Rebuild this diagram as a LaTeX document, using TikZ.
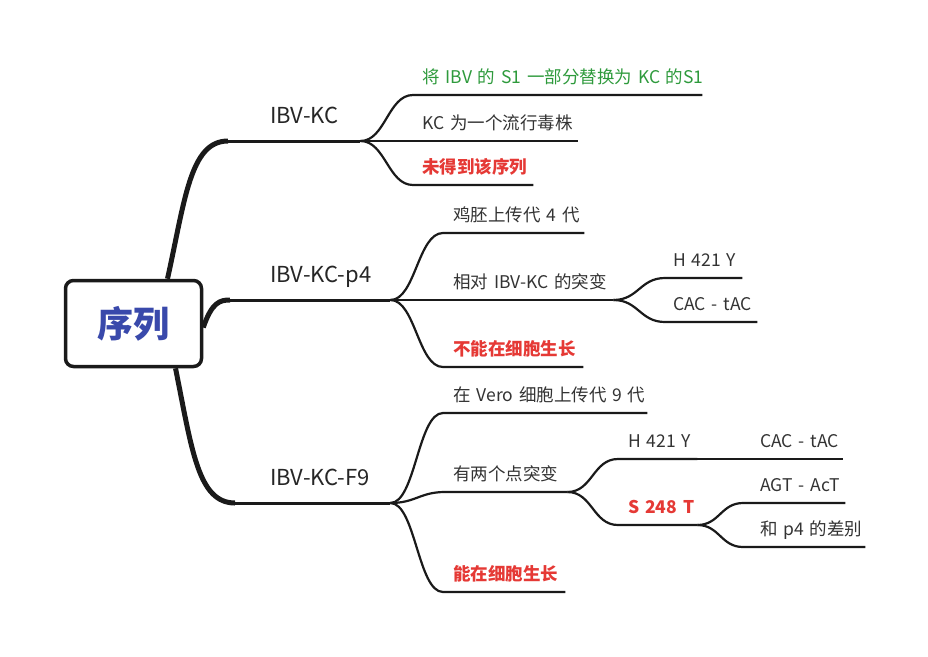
\documentclass[tikz,border=0pt]{standalone}
\usepackage{fontspec}
\setmainfont{Noto Sans CJK SC}[WordSpace=0.8]
\usetikzlibrary{positioning}

\definecolor{rootblue}{HTML}{3949AB}
\definecolor{leafgreen}{HTML}{2E9A3C}
\definecolor{alertred}{HTML}{E53935}
\definecolor{inkline}{HTML}{1A1A1A}
\definecolor{inktext}{HTML}{333333}

\tikzset{
	root/.style={draw=inkline, line width=3.5pt, rounded corners=8pt, fill=white, minimum width=136pt, minimum height=86pt, text=rootblue, font=\fontsize{36}{40}\selectfont\bfseries},
	topic/.style={anchor=south west, inner xsep=0pt, inner ysep=0pt, align=left, text width=#1pt, text=inktext, text depth=11pt, font=\fontsize{17.5}{20}\selectfont},
	lvlone/.style={topic=#1, text=black!85, text depth=17.5pt, font=\fontsize{22}{26}\selectfont},
	alert/.style={text=alertred, font=\fontsize{17.5}{20}\selectfont\bfseries},
	trunk/.style={draw=inkline, line width=5pt},
	stem/.style={draw=inkline, line width=3pt},
	twig/.style={draw=inkline, line width=2.2pt}
}

\begin{document}
\begin{tikzpicture}[x=1pt, y=-1pt]
		\useasboundingbox (0,0) rectangle (928,656);

		\node (root)[root] at (133.5,323.5) {序列};

		\node (kc)[lvlone=90] at (270,141) {IBV-KC};
		\node (p4)[lvlone=120] at (270,300) {IBV-KC-p4};
		\node (f9)[lvlone=120] at (270,503) {IBV-KC-F9};

		\node (kc1)[topic=280, text=leafgreen] at (422,95) {\mbox{将 IBV 的 S1 一部分替换为 KC 的S1}};
		\node (kc2)[topic=156] at (422,141) {KC 为一个流行毒株};
		\node (kc3)[topic=111, alert] at (422,185) {未得到该序列};

		\node (p41)[topic=131] at (453,233) {鸡胚上传代 4 代};
		\node (p42)[topic=160] at (453,300) {相对 IBV-KC 的突变};
		\node (p43)[topic=130, alert] at (453,367) {不能在细胞生长};

		\node (h1)[topic=69] at (673,278) {H 421 Y};
		\node (c1)[topic=84] at (673,322) {CAC - tAC};

		\node (f91)[topic=194] at (453,413) {在 Vero 细胞上传代 9 代};
		\node (f92)[topic=114] at (453,492) {有两个点突变};
		\node (f93)[topic=112, alert] at (453,592) {能在细胞生长};

		\node (h2)[topic=69] at (628,459) {H 421 Y};
		\node (s2)[topic=69, alert] at (628,525) {S 248 T};

		\node (c2)[topic=83] at (760,459) {CAC - tAC};
		\node (a2)[topic=85] at (760,503) {AGT - AcT};
		\node (d2)[topic=105] at (760,547) {和 p4 的差别};

		% main branches
		\draw [trunk]([xshift=34pt]root.north) .. controls (185,200) and (190,141) .. ([xshift=-42pt]kc.south west);
		\draw [trunk]([yshift=-4pt]root.east) .. controls (212,302) and (220,300) .. ([xshift=-40pt]p4.south west);
		\draw [trunk]([xshift=42pt]root.south) .. controls (192,450) and (198,503) .. ([xshift=-35pt]f9.south west);
		\draw [stem]([xshift=-42pt]kc.south west) -- (kc.south east);
		\draw [stem]([xshift=-40pt]p4.south west) -- (p4.south east);
		\draw [stem]([xshift=-35pt]f9.south west) -- (f9.south east);

		\draw [twig](kc.south east) .. controls +(25,0) and +(-25,0) .. ([xshift=-9pt]kc1.south west) -- (kc1.south east);
		\draw [twig](kc.south east) -- (kc2.south east);
		\draw [twig](kc.south east) .. controls +(25,0) and +(-25,0) .. ([xshift=-9pt]kc3.south west) -- (kc3.south east);

		\draw [twig](p4.south east) .. controls +(25,0) and +(-25,0) .. ([xshift=-10pt]p41.south west) -- (p41.south east);
		\draw [twig](p4.south east) -- (p42.south east);
		\draw [twig](p4.south east) .. controls +(25,0) and +(-25,0) .. ([xshift=-10pt]p43.south west) -- (p43.south east);

		\draw [twig](p42.south east) .. controls +(25,0) and +(-25,0) .. ([xshift=-8pt]h1.south west) -- (h1.south east);
		\draw [twig](p42.south east) .. controls +(25,0) and +(-25,0) .. ([xshift=-8pt]c1.south west) -- (c1.south east);

		\draw [twig](f9.south east) .. controls +(25,0) and +(-25,0) .. ([xshift=-10pt]f91.south west) -- (f91.south east);
		\draw [twig](f9.south east) .. controls +(25,0) and +(-25,0) .. ([xshift=-8pt]f92.south west) -- (f92.south east);
		\draw [twig](f9.south east) .. controls +(25,0) and +(-25,0) .. ([xshift=-10pt]f93.south west) -- (f93.south east);

		\draw [twig](f92.south east) .. controls +(25,0) and +(-25,0) .. ([xshift=-10pt]h2.south west) -- (h2.south east);
		\draw [twig](f92.south east) .. controls +(25,0) and +(-25,0) .. ([xshift=-10pt]s2.south west) -- (s2.south east);

		\draw [twig](h2.south east) -- (c2.south east);
		\draw [twig](s2.south east) .. controls +(22,0) and +(-22,0) .. ([xshift=-17pt]a2.south west) -- (a2.south east);
		\draw [twig](s2.south east) .. controls +(22,0) and +(-22,0) .. ([xshift=-17pt]d2.south west) -- (d2.south east);
	\end{tikzpicture}
\end{document}
